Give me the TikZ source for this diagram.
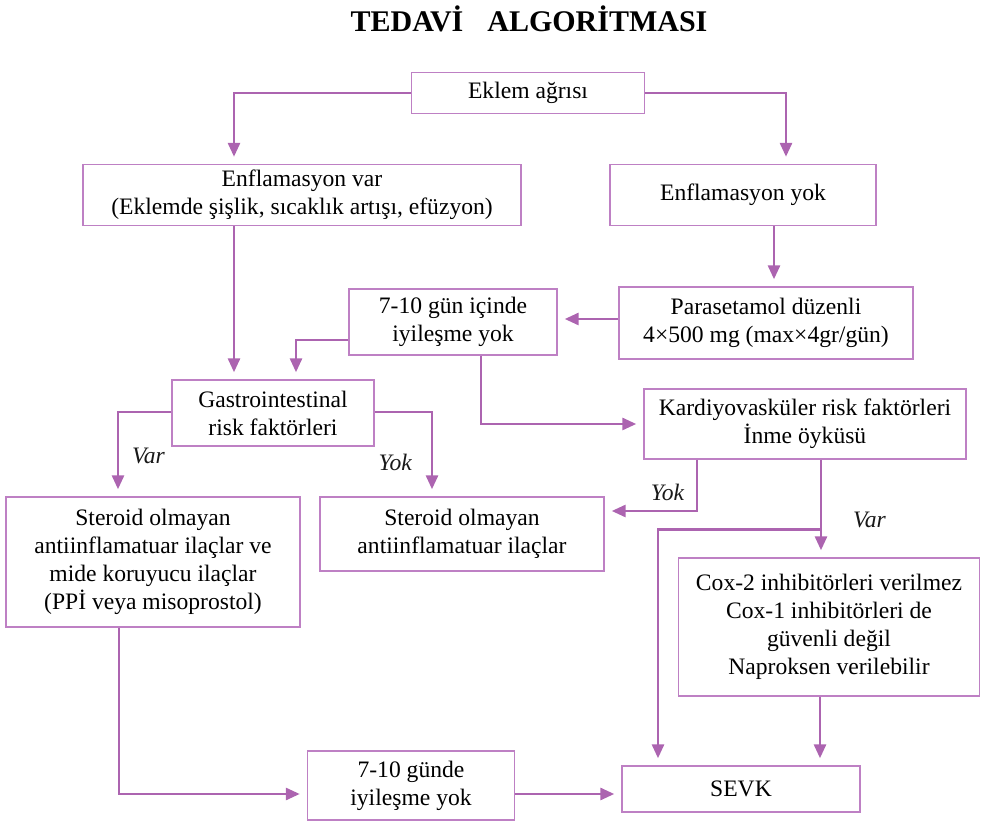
\documentclass[tikz,border=0pt]{standalone}
\usepackage{fontspec}
\setmainfont{Liberation Serif}
\usetikzlibrary{arrows.meta,positioning,calc}
\definecolor{lineviolet}{RGB}{172,100,176}
\definecolor{boxviolet}{RGB}{190,128,196}

\tikzset{
  box/.style={draw=boxviolet,line width=0.7pt,fill=white,align=center,inner sep=0pt,
    font=\fontsize{11.8}{14}\selectfont},
  arr/.style={draw=lineviolet,line width=1.4pt,-{Triangle[length=7pt,width=6pt]},shorten >=3.5pt},
  lab/.style={font=\fontsize{11.8}{14}\selectfont\itshape,text=black!90}
}

\begin{document}
\begin{tikzpicture}[x=0.5pt,y=-0.5pt]
    \useasboundingbox (0,0) rectangle (986,823);
    \node[font=\fontsize{15}{18}\selectfont\bfseries] (title) at (529,19) {TEDAVİ\hspace{0.8em}ALGORİTMASI};
    % boxes
    \node[box,minimum width=116.5pt,minimum height=20.5pt] (eklem) at (528,93) {Eklem ağrısı};
    \node[box,minimum width=219pt,minimum height=30.5pt] (enfvar) at (302,195) {Enflamasyon var\\(Eklemde şişlik, sıcaklık artışı, efüzyon)};
    \node[box,minimum width=133pt,minimum height=30.5pt] (enfyok) at (743,195) {Enflamasyon yok};
    \node[box,minimum width=104pt,minimum height=33pt] (gun) at (453,322) {7-10 gün içinde\\iyileşme yok};
    \node[box,minimum width=147pt,minimum height=36pt] (parasetamol) at (766,323) {Parasetamol düzenli\\4×500 mg (max×4gr/gün)};
    \node[box,minimum width=101pt,minimum height=33pt] (gastro) at (273,413) {Gastrointestinal\\risk faktörleri};
    \node[box,minimum width=161pt,minimum height=35pt] (kardiyo) at (805,424) {Kardiyovasküler risk faktörleri\\İnme öyküsü};
    \node[box,minimum width=147pt,minimum height=65pt] (nsaidppi) at (153,562) {Steroid olmayan\\antiinflamatuar ilaçlar ve\\mide koruyucu ilaçlar\\(PPİ veya misoprostol)};
    \node[box,minimum width=142pt,minimum height=37pt] (nsaid) at (462,534) {Steroid olmayan\\antiinflamatuar ilaçlar};
    \node[box,minimum width=150.5pt,minimum height=69pt] (cox) at (829,627) {Cox-2 inhibitörleri verilmez\\Cox-1 inhibitörleri de\\güvenli değil\\Naproksen verilebilir};
    \node[box,minimum width=103.5pt,minimum height=34.5pt] (gunde) at (411,785.5) {7-10 günde\\iyileşme yok};
    \node[box,minimum width=119pt,minimum height=23pt] (sevk) at (741,789) {SEVK};
    % connectors
    \draw[arr] (eklem.west) -| ([xshift=-34pt]enfvar.north);
    \draw[arr] (eklem.east) -| ([xshift=21.5pt]enfyok.north);
    \draw[arr] ([xshift=-34pt]enfvar.south) -- ([xshift=-34pt]enfvar.south |- gastro.north);
    \draw[arr] ([xshift=15.5pt]enfyok.south) -- ([xshift=15.5pt]enfyok.south |- parasetamol.north);
    \draw[arr] ([yshift=2pt]parasetamol.west) -- ([yshift=2pt]parasetamol.west -| gun.east);
    \draw[arr] ([yshift=-9pt]gun.west) -| ([xshift=11.5pt]gastro.north);
    \draw[arr] ([xshift=14pt]gun.south) |- (kardiyo.west);
    \draw[arr] ([yshift=0.5pt]gastro.west) -| ([xshift=-17.5pt]nsaidppi.north)
      node[lab,pos=0.76,right=3pt] {Var};
    \draw[arr] ([yshift=0.5pt]gastro.east) -| ([xshift=-15pt]nsaid.north)
      node[lab,pos=0.8,left=6pt] {Yok};
    \draw[arr] ([xshift=-54pt]kardiyo.south) |- ([yshift=11.5pt]nsaid.east)
      node[lab,pos=0.66,above=1pt] {Yok};
    \draw[arr] ([xshift=8pt]kardiyo.south) -- ([xshift=8pt]kardiyo.south |- cox.north)
      node[lab,pos=0.62,right=12pt] {Var};
    \coordinate (split) at ([xshift=8pt,yshift=-35pt]kardiyo.south);
    \draw[arr] (split) -| ([xshift=-41.5pt]sevk.north);
    \draw[arr] ([xshift=-4.5pt]cox.south) -- ([xshift=-4.5pt]cox.south |- sevk.north);
    \draw[arr] ([xshift=-17pt]nsaidppi.south) |- ([yshift=-4.25pt]gunde.west);
    \draw[arr] ([yshift=-4.25pt]gunde.east) -- ([yshift=-4.25pt]gunde.east -| sevk.west);
\end{tikzpicture}
\end{document}
